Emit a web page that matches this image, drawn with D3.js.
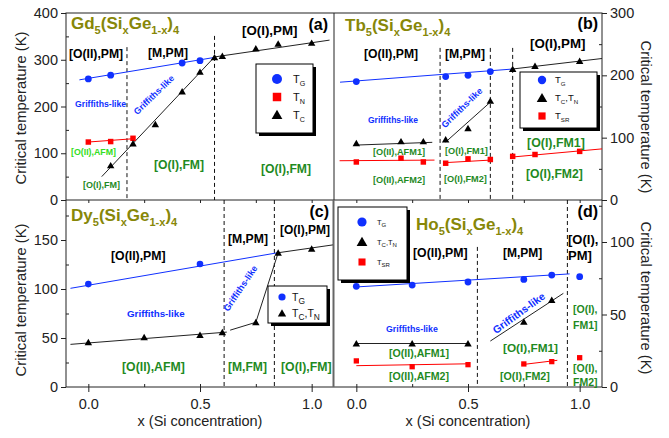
<!DOCTYPE html>
<html><head><meta charset="utf-8">
<script src="https://cdn.jsdelivr.net/npm/d3@7"></script>
<style>html,body{margin:0;padding:0;background:#fff;}svg{display:block;font-family:"Liberation Sans",Arial,sans-serif;}</style>
</head><body>
<svg id="c" width="669" height="438"></svg>
<script>
// ---------- DATA ----------
// (a) Gd5(SixGe1-x)4
const gdTGx = [0, 0.1, 0.42, 0.5];
const gdTG = [259, 267, 293, 298];
const gdTNx = [0, 0.1, 0.2];
const gdTN = [124, 125, 132];
const gdTCx = [0.1, 0.2, 0.3, 0.42, 0.5, 0.565, 0.6, 0.75, 0.85, 1.0];
const gdTC = [74, 121, 162, 232, 274, 305, 308, 324, 334, 336];
const gdFitTG = [[-0.04, 257], [0.565, 305]];
const gdFitTN = [[0, 124], [0.2, 131]];
const gdFitTC1 = [[0.06, 50], [0.565, 306]];
const gdFitTC2 = [[0.565, 306], [1.08, 342]];
const gdBounds = [[0.173, 327], [0.565, 351]];
// (b) Tb5(SixGe1-x)4
const tbTGx = [0, 0.4, 0.5, 0.6];
const tbTG = [190, 198, 200, 206];
const tbTCx = [0, 0.2, 0.3, 0.4, 0.5, 0.6, 0.7, 0.8, 1.0];
const tbTC = [91, 94, 94, 97, 115, 159, 210, 215, 223];
const tbTSRx = [0, 0.2, 0.3, 0.4, 0.5, 0.6, 0.7, 0.8, 1.0];
const tbTSR = [61, 67, 61, 59, 66, 65, 70, 73, 78];
const tbFitTG = [[-0.073, 189], [0.696, 210]];
const tbFitTCa = [[-0.01, 88], [0.34, 92.5]];
const tbFitTCb = [[0.4, 93], [0.6, 157]];
const tbFitTCc = [[0.696, 210], [1.1, 227]];
const tbFitSRa = [[-0.075, 63], [0.35, 64]];
const tbFitSRb = [[0.4, 60], [0.6, 64]];
const tbFitSRc = [[0.7, 69], [1.1, 82]];
const tbBounds = [[0.375, 244], [0.6, 244], [0.7, 244]];
// (c) Dy5(SixGe1-x)4
const dyTGx = [0, 0.5];
const dyTG = [105, 125.5];
const dyTCx = [0, 0.25, 0.5, 0.6, 0.75, 0.85, 1.0];
const dyTC = [45.6, 50.7, 53, 55.8, 66, 137, 141];
const dyFitTG = [[-0.08, 100.7], [0.848, 137]];
const dyFitTCa = [[-0.08, 43.5], [0.62, 56]];
const dyFitTCb = [[0.635, 58], [0.75, 66], [0.85, 137], [1.095, 145]];
const dyBounds = [[0.608, 191], [0.833, 191]];
// (d) Ho5(SixGe1-x)4
const hoTGx = [0, 0.25, 0.5, 0.75, 0.875, 1.0];
const hoTG = [69.4, 70.3, 72.4, 74.2, 77.2, 76.1];
const hoTCx = [0, 0.25, 0.5, 0.75, 0.875];
const hoTC = [30, 30, 30, 45, 60];
const hoTSRx = [0, 0.25, 0.5, 0.75, 0.875, 1.0];
const hoTSR = [18, 14, 15.4, 15.9, 17.5, 20.2];
const hoFitTG = [[0, 69], [0.955, 78]];
const hoFitTCa = [[0, 30], [0.5, 30]];
const hoFitTCb = [[0.6, 31.7], [0.927, 64.6]];
const hoFitSRa = [[0, 14.7], [0.5, 16]];
const hoFitSRb = [[0.74, 15.4], [0.9, 18.4]];
const hoBounds = [[0.542, 96.6], [0.945, 130]];
// ticks
const xMajor = [0, 0.5, 1.0];
const xMinor = [0, 0.25, 0.5, 0.75, 1.0];
const yTicksA = [0, 100, 200, 300, 400], yMinorA = [50, 150, 250, 350];
const yTicksB = [0, 100, 200, 300], yMinorB = [50, 150, 250];
const yTicksC = [0, 50, 100, 150], yMinorC = [25, 75, 125, 175];
const yTicksD = [0, 50, 100], yMinorD = [25, 75, 125];

// ---------- STYLE ----------
const BLUE = "#1030ff", RED = "#ff0000", OLIVE = "#878708", DGREEN = "#1f8a1f", LGREEN = "#33dd22";
const svg = d3.select("#c");
const L = 66, M = 334, R = 602, T = 13, MID = 200, B = 387;

const xL = d3.scaleLinear([-0.1, 1.1], [L, M]);
const xR = d3.scaleLinear([-0.1, 1.1], [M, R]);
const yA = d3.scaleLinear([0, 400], [MID, T]);
const yB = d3.scaleLinear([0, 300], [MID, T]);
const yC = d3.scaleLinear([0, 150], [B, 240]);
const yD = d3.scaleLinear([0, 100], [B, 242]);

function rich(g, x, y, segs, size, color, opts = {}) {
  const t = g.append("text").attr("x", x).attr("y", y).attr("font-size", size)
    .attr("fill", color).attr("font-weight", opts.bold ? "bold" : "normal");
  if (opts.anchor) t.attr("text-anchor", opts.anchor);
  if (opts.rotate !== undefined) t.attr("transform", `rotate(${opts.rotate},${x},${y})`);
  let shifted = 0;
  const ss = opts.subScale || 0.65;
  segs.forEach(s => {
    const isSub = typeof s !== "string";
    const ts = t.append("tspan").text(isSub ? s.sub : s);
    const want = isSub ? size * 0.3 : 0;
    if (want !== shifted) { ts.attr("dy", want - shifted); shifted = want; }
    if (isSub) ts.attr("font-size", size * ss);
  });
  return t;
}
function label(g, x, y, txt, size, color, bold = true, anchor = "start", rot) {
  const t = g.append("text").attr("x", x).attr("y", y).attr("font-size", size).attr("fill", color)
    .attr("font-weight", bold ? "bold" : "normal").attr("text-anchor", anchor).text(txt);
  if (rot !== undefined) t.attr("transform", `rotate(${rot},${x},${y})`);
  return t;
}
function fit(g, xs, ys, pts, color) {
  g.append("path").datum(pts).attr("fill", "none").attr("stroke", color).attr("stroke-width", 1)
    .attr("d", d3.line().x(d => xs(d[0])).y(d => ys(d[1])));
}
function bounds(g, xs, ys, arr, y0) {
  arr.forEach(b => g.append("line").attr("x1", xs(b[0])).attr("x2", xs(b[0]))
    .attr("y1", Math.max(ys(b[1]), ys.range()[1] < T + 1 ? T : MID)).attr("y2", y0)
    .attr("stroke", "#111").attr("stroke-width", 1).attr("stroke-dasharray", "4,3"));
}
const triangle = s => d3.symbol(d3.symbolTriangle, s)();
const square = s => d3.symbol(d3.symbolSquare, s)();
function pts(g, xs, ys, xv, yv, kind, color, sz) {
  const data = xv.map((x, i) => [x, yv[i]]);
  if (kind === "circle") {
    g.selectAll(null).data(data).join("circle").attr("cx", d => xs(d[0])).attr("cy", d => ys(d[1]))
      .attr("r", sz).attr("fill", color);
  } else {
    const p = kind === "tri" ? triangle(sz) : square(sz);
    g.selectAll(null).data(data).join("path").attr("d", p)
      .attr("transform", d => `translate(${xs(d[0])},${ys(d[1]) + (kind === "tri" ? 0.8 : 0)})`).attr("fill", color);
  }
}
function legend(g, x0, y0, x1, y1, items, mx, tx, fs, mscale) {
  g.append("rect").attr("x", x0 + 3).attr("y", y0 + 3).attr("width", x1 - x0).attr("height", y1 - y0).attr("fill", "#000");
  g.append("rect").attr("x", x0).attr("y", y0).attr("width", x1 - x0).attr("height", y1 - y0)
    .attr("fill", "#fff").attr("stroke", "#000").attr("stroke-width", 1);
  items.forEach(it => {
    if (it.kind === "circle") g.append("circle").attr("cx", mx).attr("cy", it.y).attr("r", it.size).attr("fill", it.color);
    else g.append("path").attr("d", it.kind === "tri" ? triangle(it.size) : square(it.size))
      .attr("transform", `translate(${mx},${it.y + (it.kind === "tri" ? 1 : 0)})`).attr("fill", it.color);
    rich(g, tx, it.y + fs * 0.35, it.text, fs, "#111", { subScale: mscale || 0.65 });
  });
}

const g = svg.append("g");

// ---------- AXES ----------
function axis(gen, tx, ty, vals, size, fmt, fs) {
  const a = g.append("g").attr("transform", `translate(${tx},${ty})`)
    .call(gen.tickValues(vals).tickSize(size).tickPadding(3).tickFormat(fmt));
  a.select(".domain").remove();
  a.selectAll("text").attr("font-size", fs || 14.5).attr("fill", "#222").attr("font-family", "Liberation Sans, Arial, sans-serif");
  a.selectAll("line").attr("stroke", "#222");
  return a;
}
const nf = d3.format("d"), xf = d3.format(".1f"), none = () => "";
axis(d3.axisLeft(yA), L, 0, yTicksA, 5, nf);
axis(d3.axisLeft(yA), L, 0, yMinorA, -3, none);
axis(d3.axisLeft(yC), L, 0, yTicksC, 5, nf);
axis(d3.axisLeft(yC), L, 0, yMinorC, -3, none);
axis(d3.axisRight(yB), R, 0, yTicksB, 5, nf);
axis(d3.axisRight(yB), R, 0, yMinorB, -3, none);
axis(d3.axisRight(yD), R, 0, yTicksD, 5, nf);
axis(d3.axisRight(yD), R, 0, yMinorD, -3, none);
const bx1 = axis(d3.axisBottom(xL), 0, B, xMajor, 5, xf);
const bx2 = axis(d3.axisBottom(xR), 0, B, xMajor, 5, xf);
bx1.selectAll("text").attr("dy", "0.95em");
bx2.selectAll("text").attr("dy", "0.95em");
axis(d3.axisBottom(xL), 0, B, xMinor, -3, none);
axis(d3.axisBottom(xR), 0, B, xMinor, -3, none);
axis(d3.axisBottom(xL), 0, MID, xMinor, 3, none);
axis(d3.axisBottom(xR), 0, MID, xMinor, 3, none);

// frames
g.append("rect").attr("x", L).attr("y", T).attr("width", R - L).attr("height", B - T).attr("fill", "none").attr("stroke", "#222");
g.append("line").attr("x1", L).attr("x2", R).attr("y1", MID).attr("y2", MID).attr("stroke", "#222");
g.append("line").attr("x1", M).attr("x2", M).attr("y1", T).attr("y2", MID).attr("stroke", "#222");
g.append("line").attr("x1", M - 0.5).attr("x2", M - 0.5).attr("y1", MID).attr("y2", B).attr("stroke", "#666").attr("stroke-width", 2);

// axis titles
const YT = "Critical temperature (K)", XT = "x (Si concentration)";
[[26, 108, -90], [26, 300, -90], [641, 117, 90], [641, 298, 90]].forEach(p =>
  g.append("text").attr("transform", `translate(${p[0]},${p[1]}) rotate(${p[2]})`).attr("text-anchor", "middle")
    .attr("font-size", 14.8).attr("fill", "#222").text(YT));
[[200, 426], [468, 426]].forEach(p => g.append("text").attr("x", p[0]).attr("y", p[1]).attr("text-anchor", "middle")
  .attr("font-size", 14.5).attr("fill", "#222").text(XT));

// ---------- PANEL (a) ----------
const ga = g.append("g");
bounds(ga, xL, yA, gdBounds, MID);
fit(ga, xL, yA, gdFitTG, BLUE);
fit(ga, xL, yA, gdFitTN, RED);
fit(ga, xL, yA, gdFitTC1, "#222");
fit(ga, xL, yA, gdFitTC2, "#222");
pts(ga, xL, yA, gdTGx, gdTG, "circle", BLUE, 3.4);
pts(ga, xL, yA, gdTNx, gdTN, "square", RED, 30);
pts(ga, xL, yA, gdTCx, gdTC, "tri", "#000", 24);
rich(ga, 71, 29, ["Gd", {sub: "5"}, "(Si", {sub: "x"}, "Ge", {sub: "1-x"}, ")", {sub: "4"}], 17, OLIVE, {bold: true});
label(ga, 328, 30, "(a)", 16, "#000", true, "end");
label(ga, 69, 58, "[O(II),PM]", 12.2, "#000");
label(ga, 148, 57, "[M,PM]", 12.2, "#000");
label(ga, 242, 35, "[O(I),PM]", 13.3, "#000");
label(ga, 75, 107, "Griffiths-like", 8.7, BLUE);
label(ga, 156, 97, "Griffiths-like", 8.9, BLUE, true, "middle", -44);
label(ga, 71, 155, "[O(II),AFM]", 8.8, LGREEN);
label(ga, 83, 188, "[O(I),FM]", 9, DGREEN);
label(ga, 154, 169, "[O(I),FM]", 12.2, DGREEN);
label(ga, 261, 173, "[O(I),FM]", 12.2, DGREEN);
legend(ga, 256, 64, 313, 133, [
  {kind: "circle", y: 79, size: 5, color: BLUE, text: ["T", {sub: "G"}]},
  {kind: "square", y: 97, size: 72, color: RED, text: ["T", {sub: "N"}]},
  {kind: "tri", y: 115, size: 50, color: "#000", text: ["T", {sub: "C"}]}
], 277, 293, 11);

// ---------- PANEL (b) ----------
const gb = g.append("g");
bounds(gb, xR, yB, tbBounds, MID);
fit(gb, xR, yB, tbFitTG, BLUE);
fit(gb, xR, yB, tbFitTCa, "#222");
fit(gb, xR, yB, tbFitTCb, "#222");
fit(gb, xR, yB, tbFitTCc, "#222");
fit(gb, xR, yB, tbFitSRa, RED);
fit(gb, xR, yB, tbFitSRb, RED);
fit(gb, xR, yB, tbFitSRc, RED);
pts(gb, xR, yB, tbTGx, tbTG, "circle", BLUE, 3.4);
pts(gb, xR, yB, tbTSRx, tbTSR, "square", RED, 30);
pts(gb, xR, yB, tbTCx, tbTC, "tri", "#000", 24);
rich(gb, 345, 31, ["Tb", {sub: "5"}, "(Si", {sub: "x"}, "Ge", {sub: "1-x"}, ")", {sub: "4"}], 17, OLIVE, {bold: true});
label(gb, 598, 29, "(b)", 16, "#000", true, "end");
label(gb, 364, 58, "[O(II),PM]", 12.2, "#000");
label(gb, 445, 58, "[M,PM]", 12.2, "#000");
label(gb, 530, 48, "[O(I),PM]", 13.3, "#000");
label(gb, 368, 123, "Griffiths-like", 8.5, BLUE);
label(gb, 464, 110, "Griffiths-like", 9, BLUE, true, "middle", -44);
label(gb, 373, 155, "[O(II),AFM1]", 9.2, DGREEN);
label(gb, 373, 183, "[O(II),AFM2]", 9.2, DGREEN);
label(gb, 445, 154, "[O(I),FM1]", 9.2, DGREEN);
label(gb, 444, 182, "[O(I),FM2]", 9.2, DGREEN);
label(gb, 527, 147, "[O(I),FM1]", 12.4, DGREEN);
label(gb, 526, 178, "[O(I),FM2]", 12.2, DGREEN);
legend(gb, 520, 72, 597, 128, [
  {kind: "circle", y: 80, size: 4.2, color: BLUE, text: ["T", {sub: "G"}]},
  {kind: "tri", y: 98, size: 48, color: "#000", text: ["T", {sub: "C"}, ",T", {sub: "N"}]},
  {kind: "square", y: 116, size: 52, color: RED, text: ["T", {sub: "SR"}]}
], 542, 555, 9.5);

// ---------- PANEL (c) ----------
const gc = g.append("g");
bounds(gc, xL, yC, dyBounds, B);
fit(gc, xL, yC, dyFitTG, BLUE);
fit(gc, xL, yC, dyFitTCa, "#222");
fit(gc, xL, yC, dyFitTCb, "#222");
pts(gc, xL, yC, dyTGx, dyTG, "circle", BLUE, 3.3);
pts(gc, xL, yC, dyTCx, dyTC, "tri", "#000", 24);
rich(gc, 71, 221, ["Dy", {sub: "5"}, "(Si", {sub: "x"}, "Ge", {sub: "1-x"}, ")", {sub: "4"}], 17, OLIVE, {bold: true});
label(gc, 329, 217, "(c)", 16, "#000", true, "end");
label(gc, 111, 260, "[O(II),PM]", 12.3, "#000");
label(gc, 228, 243, "[M,PM]", 12.2, "#000");
label(gc, 280, 234, "[O(I),PM]", 12, "#000");
label(gc, 127, 317, "Griffiths-like", 9.8, BLUE);
label(gc, 243, 290, "Griffiths-like", 9, BLUE, true, "middle", -56);
label(gc, 122, 371, "[O(II),AFM]", 12.3, DGREEN);
label(gc, 228, 371, "[M,FM]", 12.1, DGREEN);
label(gc, 281, 371, "[O(I),FM]", 12.3, DGREEN);
legend(gc, 268, 286, 327, 323, [
  {kind: "circle", y: 297, size: 3.6, color: BLUE, text: ["T", {sub: "G"}]},
  {kind: "tri", y: 313, size: 30, color: "#000", text: ["T", {sub: "C"}, ",T", {sub: "N"}]}
], 282, 292, 10.5, 0.8);

// ---------- PANEL (d) ----------
const gd = g.append("g");
bounds(gd, xR, yD, hoBounds, B);
fit(gd, xR, yD, hoFitTG, BLUE);
fit(gd, xR, yD, hoFitTCa, "#222");
fit(gd, xR, yD, hoFitTCb, "#222");
fit(gd, xR, yD, hoFitSRa, RED);
fit(gd, xR, yD, hoFitSRb, RED);
pts(gd, xR, yD, hoTGx, hoTG, "circle", BLUE, 3.4);
pts(gd, xR, yD, hoTSRx, hoTSR, "square", RED, 28);
pts(gd, xR, yD, hoTCx, hoTC, "tri", "#000", 24);
rich(gd, 416, 230, ["Ho", {sub: "5"}, "(Si", {sub: "x"}, "Ge", {sub: "1-x"}, ")", {sub: "4"}], 17, OLIVE, {bold: true});
label(gd, 598, 217, "(d)", 16, "#000", true, "end");
label(gd, 413, 257, "[O(II),PM]", 12.3, "#000");
label(gd, 503, 257, "[M,PM]", 12, "#000");
label(gd, 568, 244, "[O(I),", 13, "#000");
label(gd, 568, 260, "PM]", 13, "#000");
label(gd, 386, 332, "Griffiths-like", 8.8, BLUE);
label(gd, 521, 316, "Griffiths-like", 10.5, BLUE, true, "middle", -36);
label(gd, 389, 357, "[O(II),AFM1]", 10.6, DGREEN);
label(gd, 389, 380, "[O(II),AFM2]", 10.6, DGREEN);
label(gd, 503, 352, "[O(I),FM1]", 11.8, DGREEN);
label(gd, 500, 380, "[O(I),FM2]", 10.7, DGREEN);
label(gd, 573, 313, "[O(I),", 10.5, DGREEN);
label(gd, 573, 329, "FM1]", 10.5, DGREEN);
label(gd, 573, 372, "[O(I),", 10.5, DGREEN);
label(gd, 573, 386, "FM2]", 10.5, DGREEN);
legend(gd, 338, 207, 407, 280, [
  {kind: "circle", y: 222, size: 4.6, color: BLUE, text: ["T", {sub: "G"}]},
  {kind: "tri", y: 242, size: 50, color: "#000", text: ["T", {sub: "C"}, ",T", {sub: "N"}]},
  {kind: "square", y: 262, size: 50, color: RED, text: ["T", {sub: "SR"}]}
], 362, 377, 7.5, 0.8);
</script>
</body></html>
